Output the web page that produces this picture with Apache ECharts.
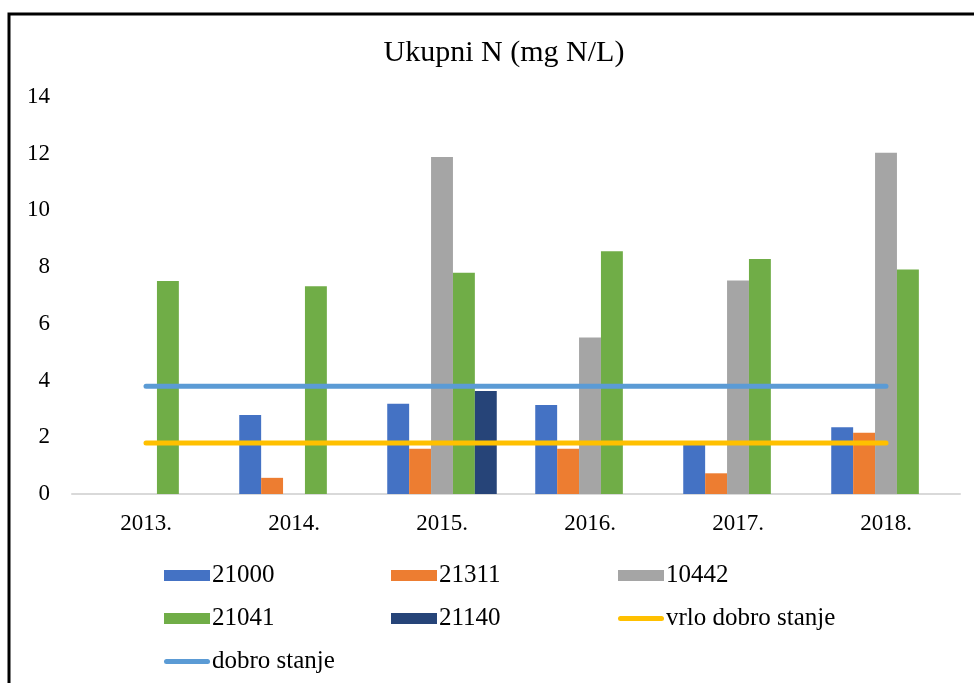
<!DOCTYPE html>
<html>
<head>
<meta charset="utf-8">
<script src="https://cdn.jsdelivr.net/npm/echarts@6/dist/echarts.min.js"></script>
<style>
  html, body { margin: 0; padding: 0; background: #fff; }
  #main { width: 974px; height: 683px; }
</style>
</head>
<body>
<div id="main"></div>
<script>
// godine i vrijednosti ukupnog N po postaji
var years = ['2013.', '2014.', '2015.', '2016.', '2017.', '2018.']
var s21000 = [null, 2.79, 3.18, 3.14, 1.8, 2.35]
var s21311 = [null, 0.57, 1.6, 1.6, 0.73, 2.16]
var s10442 = [null, null, 11.88, 5.52, 7.53, 12.03]
var s21041 = [7.51, 7.33, 7.8, 8.56, 8.29, 7.92]
var s21140 = [null, null, 3.63, null, null, null]
// granice stanja
var vrloDobro = [1.8, 1.8, 1.8, 1.8, 1.8, 1.8]
var dobro = [3.8, 3.8, 3.8, 3.8, 3.8, 3.8]

var serif = "'Liberation Serif', 'Times New Roman', serif"
var lineIcon = 'path://M2.5,0 L43.5,0 A2.5,2.5 0 0 1 43.5,5 L2.5,5 A2.5,2.5 0 0 1 2.5,0 Z'

function bar(name, data, color) {
    return {
        name: name,
        type: 'bar',
        data: data,
        barGap: '0%',
        barCategoryGap: '26%',
        itemStyle: { color: color }
    }
}

function line(name, data, color) {
    return {
        name: name,
        type: 'line',
        data: data,
        symbol: 'none',
        lineStyle: { color: color, width: 5, cap: 'round' },
        itemStyle: { color: color }
    }
}

var myChart = echarts.init(document.getElementById('main'))
var option = {
    animation: false,
    backgroundColor: '#fff',
    textStyle: { fontFamily: serif, color: '#000' },
    title: {
        text: 'Ukupni N (mg N/L)',
        left: 499,
        top: 33,
        textAlign: 'center',
        textStyle: { fontFamily: serif, fontSize: 30, fontWeight: 'normal', color: '#000' }
    },
    graphic: [{
        type: 'rect',
        shape: { x: 9, y: 14, width: 1000, height: 700 },
        style: { fill: 'none', stroke: '#000', lineWidth: 3 },
        silent: true
    }],
    grid: { left: 72, right: 14, top: 97, bottom: 189, containLabel: false },
    legend: {
        left: 159,
        top: 558,
        width: 700,
        itemWidth: 46,
        itemHeight: 11,
        itemGap: 18,
        data: [
            { name: '21000', icon: 'rect' },
            { name: '21311', icon: 'rect' },
            { name: '10442', icon: 'rect' },
            { name: '21041', icon: 'rect' },
            { name: '21140', icon: 'rect' },
            { name: 'vrlo dobro stanje', icon: lineIcon },
            { name: 'dobro stanje', icon: lineIcon }
        ],
        textStyle: { fontFamily: serif, fontSize: 25, color: '#000', width: 161, lineHeight: 21, padding: [0, 0, 0, -3] }
    },
    xAxis: {
        type: 'category',
        data: years,
        axisLine: { lineStyle: { color: '#D9D9D9', width: 2 } },
        axisTick: { show: false },
        axisLabel: { fontFamily: serif, fontSize: 23, color: '#000', margin: 18 }
    },
    yAxis: {
        type: 'value',
        min: 0,
        max: 14,
        interval: 2,
        splitLine: { show: false },
        axisLine: { show: false },
        axisTick: { show: false },
        axisLabel: { fontFamily: serif, fontSize: 23, color: '#000', margin: 22 }
    },
    series: [
        bar('21000', s21000, '#4472C4'),
        bar('21311', s21311, '#ED7D31'),
        bar('10442', s10442, '#A5A5A5'),
        bar('21041', s21041, '#70AD47'),
        bar('21140', s21140, '#264478'),
        line('vrlo dobro stanje', vrloDobro, '#FFC000'),
        line('dobro stanje', dobro, '#5B9BD5')
    ]
}
myChart.setOption(option)
</script>
</body>
</html>
